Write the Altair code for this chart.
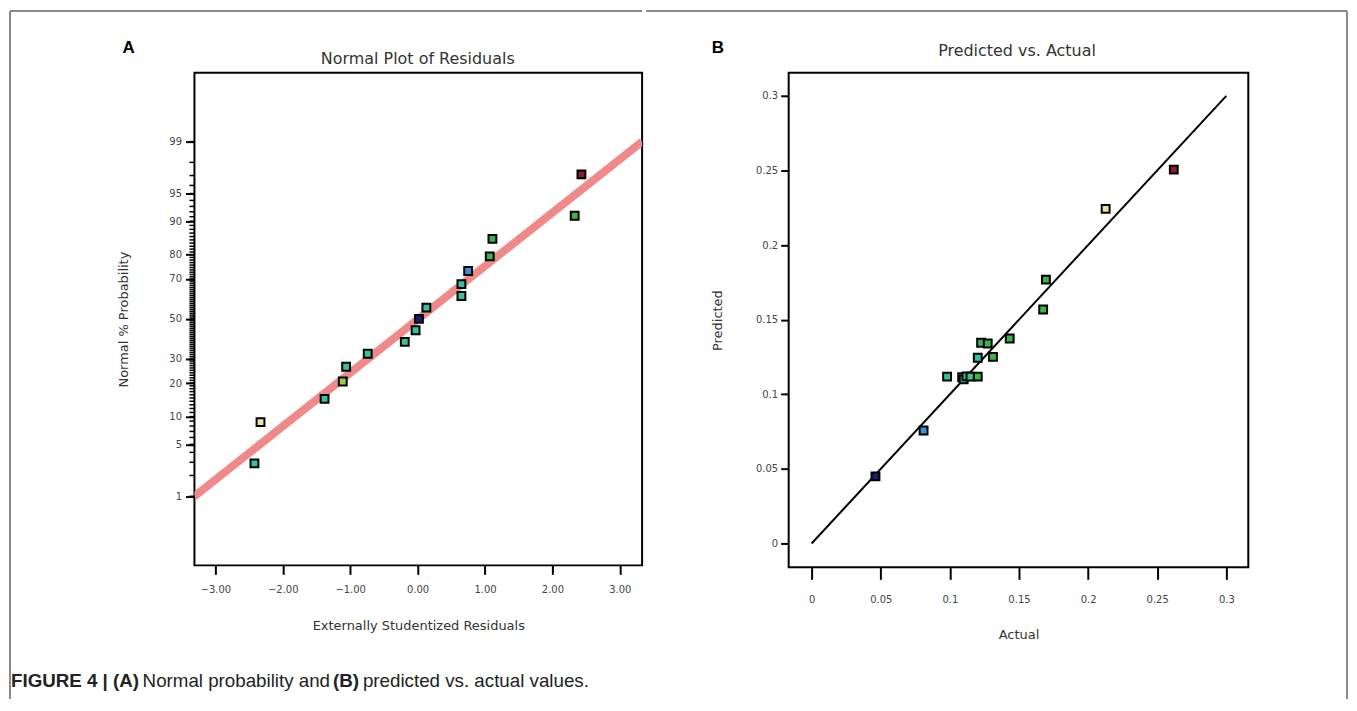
import altair as alt
import pandas as pd
from statistics import NormalDist

ND = NormalDist()

# ---------------- Panel A: normal plot of residuals ----------------
resid_x = [-2.42, -2.33, -1.38, -1.11, -1.06, -0.74, -0.19, -0.03, 0.02,
           0.13, 0.65, 0.65, 0.75, 1.07, 1.11, 2.33, 2.43]
normal_pct = [2.9, 8.8, 14.7, 20.6, 26.5, 32.4, 38.2, 44.1, 50.0,
              55.9, 61.8, 67.6, 73.5, 79.4, 85.3, 91.2, 97.1]
level_a = ["teal", "yellow", "teal", "lime", "teal", "teal", "teal", "teal", "navy",
           "teal", "teal", "teal", "blue", "green", "green", "green", "red"]

fit_a_x = [-3.31, 3.33]
fit_a_pct = [1.0, 99.0]

major_pct = [1, 5, 10, 20, 30, 50, 70, 80, 90, 95, 99]
minor_pct = list(range(1, 100))
x_ticks_a = [-3, -2, -1, 0, 1, 2, 3]

# ---------------- Panel B: predicted vs actual ----------------
actual = [0.0462, 0.081, 0.098, 0.1089, 0.110, 0.112, 0.1149, 0.1202, 0.1202,
          0.1226, 0.1274, 0.1312, 0.1433, 0.1675, 0.1695, 0.2127, 0.262]
predicted = [0.045, 0.0757, 0.1118, 0.1114, 0.110, 0.112, 0.1118, 0.1245, 0.1118,
             0.1345, 0.134, 0.1251, 0.1374, 0.1568, 0.1768, 0.2242, 0.2505]
level_b = ["navy", "blue", "teal", "teal", "teal", "teal", "teal", "teal", "green",
           "green", "green", "green", "green", "green", "green", "yellow", "red"]
fit_b = [0.0, 0.3]
ticks_b = [0, 0.05, 0.1, 0.15, 0.2, 0.25, 0.3]

level_domain = ["navy", "blue", "teal", "green", "lime", "yellow", "red"]
level_range = ["#1b1b6b", "#3d8fd0", "#36c2a0", "#3cb44b", "#9ccc3c", "#efe39a", "#8c1c2c"]

caption_parts = ["FIGURE 4 | (A)", "Normal probability and", "(B)", "predicted vs. actual values."]


def z(p):
    return ND.inv_cdf(p / 100.0)


WA, HA = 449, 494
WB, HB = 461, 496

one = pd.DataFrame({"k": [0]})


def text_mark(txt, x, y, size, weight="normal", align="center", font="DejaVu Sans", color="#333"):
    return alt.Chart(one).mark_text(
        text=txt, align=align, baseline="middle", fontSize=size, fontWeight=weight,
        font=font, color=color
    ).encode(x=alt.value(x), y=alt.value(y))


def frame_line(x, x2, y, y2):
    return alt.Chart(one).mark_rule(color="#8a8a8a", strokeWidth=2).encode(
        x=alt.value(x), x2=alt.value(x2), y=alt.value(y), y2=alt.value(y2))


fill_scale = alt.Scale(domain=level_domain, range=level_range)

# ---- panel A encodings
xa_scale = alt.Scale(domain=[-3.31, 3.33], nice=False, zero=False)
ya_scale = alt.Scale(domain=[-3.233, 3.228], nice=False, zero=False)

axis_xa = alt.Axis(values=x_ticks_a, format=".2f", title="Externally Studentized Residuals",
                   tickSize=9, tickWidth=2, tickColor="black", domain=False, grid=False,
                   labelPadding=10, labelFont="DejaVu Sans", labelFontSize=10, labelColor="#444",
                   titleFont="DejaVu Sans", titleFontSize=13, titleFontWeight="normal",
                   titleColor="#333", titleY=60, titleBaseline="middle")
axis_ya = alt.Axis(values=[z(p) for p in major_pct],
                   labelExpr="format(round(cumulativeNormal(datum.value)*100), 'd')",
                   title="Normal % Probability",
                   tickSize=9, tickWidth=2, tickColor="black", domain=False, grid=False,
                   labelPadding=4, labelFont="DejaVu Sans", labelFontSize=10, labelColor="#444",
                   titleFont="DejaVu Sans", titleFontSize=13, titleFontWeight="normal",
                   titleColor="#333", titleX=-71, titleY=HA / 2, titleBaseline="middle")

x_a = alt.X("x:Q", scale=xa_scale, axis=axis_xa)
y_a = alt.Y("y:Q", scale=ya_scale, axis=axis_ya)

df_a = pd.DataFrame({"x": resid_x, "y": [z(p) for p in normal_pct], "level": level_a})
df_fit_a = pd.DataFrame({"x": fit_a_x, "y": [z(p) for p in fit_a_pct]})
df_minor = pd.DataFrame({"y": [z(p) for p in minor_pct]})

fit_a = alt.Chart(df_fit_a).mark_line(color="#f08a8a", strokeWidth=8, clip=True,
                                      strokeCap="butt").encode(x=x_a, y=y_a)
minor_a = alt.Chart(df_minor).mark_rule(color="black", strokeWidth=1.5).encode(
    y=y_a, x=alt.value(0), x2=alt.value(-5))
pts_a = alt.Chart(df_a).mark_square(size=62, filled=True, stroke="black", strokeWidth=2,
                                    opacity=1).encode(
    x=x_a, y=y_a, fill=alt.Fill("level:N", scale=fill_scale, legend=None))

cap_y = 610
cap_size = 18.8
panel_a = alt.layer(
    fit_a, minor_a, pts_a,
    text_mark("Normal Plot of Residuals", 224, -14, 16),
    text_mark("A", -66, -25, 17, weight="bold", font="Liberation Sans", color="black"),
    frame_line(-185, WA, -62, -62),
    frame_line(-185, -185, -62, 628),
    text_mark(caption_parts[0], -184, cap_y, cap_size, weight="bold", align="left",
              font="Liberation Sans", color="#222"),
    text_mark(caption_parts[1], -52, cap_y, cap_size, align="left",
              font="Liberation Sans", color="#222"),
    text_mark(caption_parts[2], 139, cap_y, cap_size, weight="bold", align="left",
              font="Liberation Sans", color="#222"),
    text_mark(caption_parts[3], 169, cap_y, cap_size, align="left",
              font="Liberation Sans", color="#222"),
).properties(width=WA, height=HA)

# ---- panel B encodings
xb_scale = alt.Scale(domain=[-0.0166, 0.3159], nice=False, zero=False)
yb_scale = alt.Scale(domain=[-0.016, 0.3154], nice=False, zero=False)

axis_xb = alt.Axis(values=ticks_b, format="~g", title="Actual",
                   tickSize=12, tickWidth=2, tickColor="black", domain=False, grid=False,
                   labelPadding=15, labelFont="DejaVu Sans", labelFontSize=10, labelColor="#444",
                   titleFont="DejaVu Sans", titleFontSize=13, titleFontWeight="normal",
                   titleColor="#333", titleY=67, titleBaseline="middle")
axis_yb = alt.Axis(values=ticks_b, format="~g", title="Predicted",
                   tickSize=8, tickWidth=2, tickColor="black", domain=False, grid=False,
                   labelPadding=3, labelFont="DejaVu Sans", labelFontSize=10, labelColor="#444",
                   titleFont="DejaVu Sans", titleFontSize=13, titleFontWeight="normal",
                   titleColor="#333", titleX=-71, titleY=HB / 2, titleBaseline="middle")

x_b = alt.X("x:Q", scale=xb_scale, axis=axis_xb)
y_b = alt.Y("y:Q", scale=yb_scale, axis=axis_yb)

df_b = pd.DataFrame({"x": actual, "y": predicted, "level": level_b})
df_fit_b = pd.DataFrame({"x": fit_b, "y": fit_b})

fit_b_line = alt.Chart(df_fit_b).mark_line(color="black", strokeWidth=2).encode(x=x_b, y=y_b)
pts_b = alt.Chart(df_b).mark_square(size=62, filled=True, stroke="black", strokeWidth=2,
                                    opacity=1).encode(
    x=x_b, y=y_b, fill=alt.Fill("level:N", scale=fill_scale, legend=None))

panel_b = alt.layer(
    fit_b_line, pts_b,
    text_mark("Predicted vs. Actual", 229, -22, 16),
    text_mark("B", -71, -25, 17, weight="bold", font="Liberation Sans", color="black"),
    frame_line(-143, 560, -62, -62),
    frame_line(560, 560, -62, 628),
).properties(width=WB, height=HB)

chart = alt.hconcat(panel_a, panel_b, spacing=0).properties(
    padding={"left": 0, "top": 0, "right": 0, "bottom": 0},
    background="white",
).configure_view(stroke="black", strokeWidth=2)

chart.save("out.html", embed_options={"renderer": "svg", "actions": False})
